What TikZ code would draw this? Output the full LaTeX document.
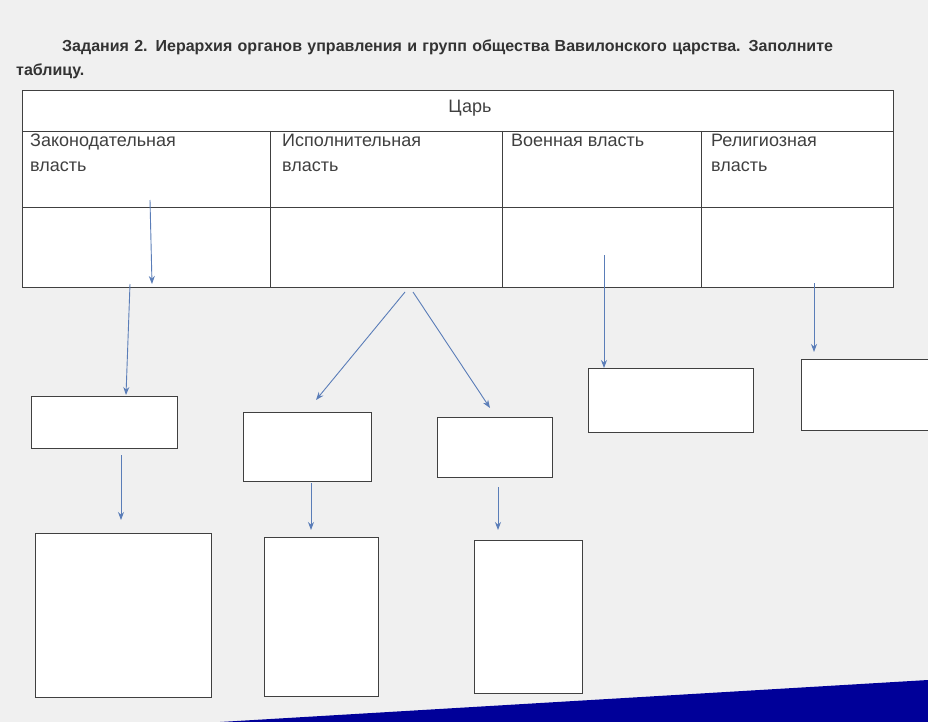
\documentclass[tikz,border=0pt]{standalone}
\usepackage{fontspec}
\setmainfont{Liberation Sans}
\usetikzlibrary{arrows.meta}
\definecolor{arrc}{HTML}{5A7DB8}
\begin{document}
\begin{tikzpicture}[x=1pt,y=-1pt,
  box/.style={draw=black!75,line width=0.8pt},
  arr/.style={draw=arrc,line width=0.9pt,-{Stealth[length=8pt,width=6pt]}},
  lbl/.style={anchor=north west,align=left,font=\fontsize{18}{25}\selectfont,text=black!75,inner sep=0pt}]
\useasboundingbox (0,0) rectangle (928,722);
\clip (0,0) rectangle (928,722);
\fill[black!6] (0,0) rectangle (928,722);
\fill[blue!60!black] (220,722) -- (928,680) -- (928,722) -- cycle;
\node[anchor=north west,font=\bfseries\fontsize{16}{24}\selectfont,text=black!80,inner sep=0pt,text width=890pt,align=left] (title) at (16,40)
  {\hspace*{46pt}Задания 2. Иерархия органов управления и групп общества Вавилонского царства. Заполните таблицу.};
% table
\draw[box,fill=white] (22,90) rectangle (893,287);
\draw[box] (22,131) -- (893,131);
\draw[box] (22,207) -- (893,207);
\foreach \x in {270,502,701} \draw[box] (\x,131) -- (\x,287);
\node[font=\fontsize{18}{22}\selectfont,text=black!75] (tsar) at (470,108) {Царь};
\node[lbl] (h1) at (30,134) {Законодательная\\власть};
\node[lbl] (h2) at (282,134) {Исполнительная\\власть};
\node[lbl] (h3) at (511,134) {Военная власть};
\node[lbl] (h4) at (711,134) {Религиозная\\власть};
% boxes
\draw[box,fill=white] (31,396) rectangle (177,448);
\draw[box,fill=white] (243,412) rectangle (371,481);
\draw[box,fill=white] (437,417) rectangle (552,477);
\draw[box,fill=white] (588,368) rectangle (753,432);
\draw[box,fill=white] (801,359) rectangle (940,430);
\draw[box,fill=white] (35,533) rectangle (211,697);
\draw[box,fill=white] (264,537) rectangle (378,696);
\draw[box,fill=white] (474,540) rectangle (582,693);
% arrows
\coordinate (a1) at (150,200); \coordinate (a1e) at (152,284);
\coordinate (a2) at (130,284); \coordinate (a2e) at (126,395);
\coordinate (a3) at (405,292); \coordinate (a3e) at (316,400);
\coordinate (a4) at (413,292); \coordinate (a4e) at (490,408);
\coordinate (a5) at (604,255); \coordinate (a5e) at (604,368);
\coordinate (a6) at (814,283); \coordinate (a6e) at (814,352);
\coordinate (a7) at (121,455); \coordinate (a7e) at (121,520);
\coordinate (a8) at (311,483); \coordinate (a8e) at (311,530);
\coordinate (a9) at (498,487); \coordinate (a9e) at (498,530);
\foreach \s in {1,...,9} \draw[arr] (a\s) -- (a\s e);
\end{tikzpicture}
\end{document}
